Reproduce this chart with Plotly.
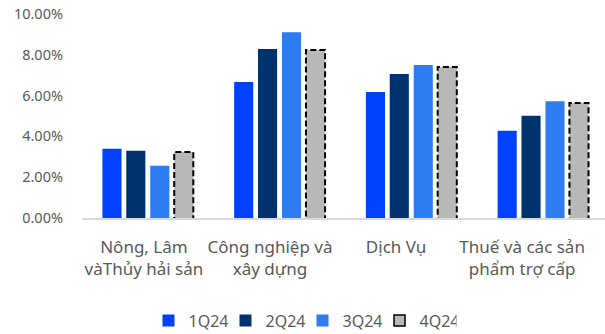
import plotly.graph_objects as go

categories = ["Nông, Lâm<br>vàThủy hải sản", "Công nghiệp và<br>xây dựng", "Dịch Vụ", "Thuế và các sản<br>phẩm trợ cấp"]
series_names = ["1Q24", "2Q24", "3Q24", "4Q24"]
q1 = [3.40, 6.67, 6.18, 4.28]
q2 = [3.30, 8.28, 7.06, 5.01]
q3 = [2.56, 9.11, 7.50, 5.72]
q4 = [3.23, 8.24, 7.40, 5.64]
y_ticks = [0, 2, 4, 6, 8, 10]

colors = ["#0041ff", "#00336e", "#2e7cf2", "#b8b8b8"]
values = [q1, q2, q3, q4]
width = 0.145
offsets = [-0.345, -0.164, 0.018, 0.2]
# label positions (labels sit on a slightly tighter spacing than the bar groups)
label_pos = [i * 0.957 - 0.03 for i in range(len(categories))]

fig = go.Figure()
for name, vals, col, off in zip(series_names, values, colors, offsets):
    is_last = name == series_names[-1]
    fig.add_trace(go.Bar(
        x=list(range(len(categories))), y=vals, name=name,
        marker=dict(color=col, line=dict(width=0)),
        width=width, offset=off, showlegend=not is_last,
    ))

# legend entry for 4Q24 with outlined box
fig.add_trace(go.Scatter(
    x=[None], y=[None], mode="markers", name=series_names[-1],
    marker=dict(symbol="square", size=11, color=colors[-1],
                line=dict(color="black", width=1.5)),
))

# dashed outline for 4Q24 bars, computed from data
for i, v in enumerate(q4):
    fig.add_shape(type="rect", xref="x", yref="y",
                  x0=i + offsets[3], x1=i + offsets[3] + width, y0=-0.1, y1=v,
                  line=dict(color="black", width=2, dash="6px,3px"),
                  fillcolor="rgba(0,0,0,0)", layer="above")

font_family = "Noto Sans"
fig.update_layout(
    width=605, height=334,
    margin=dict(l=82, r=0, t=14, b=116),
    paper_bgcolor="white", plot_bgcolor="white",
    barmode="group",
    font=dict(family=font_family, size=14, color="#595959"),
    showlegend=True,
    legend=dict(orientation="h", xref="container", yref="container",
                x=0.5, xanchor="center", y=0.04, yanchor="middle",
                font=dict(size=16, color="#595959"),
                itemwidth=30, tracegroupgap=0, entrywidth=32, entrywidthmode="pixels"),
)
fig.update_xaxes(
    tickmode="array", tickvals=label_pos, ticktext=categories,
    range=[-0.5, 3.47], showline=True, linecolor="#d9d9d9", linewidth=1.5,
    showgrid=False, zeroline=False, ticks="", tickfont=dict(size=17, color="#595959"),
    ticklabelstandoff=13,
)
fig.update_yaxes(
    range=[0, 10], tickvals=y_ticks, ticktext=[f"{t:.2f}%" for t in y_ticks],
    showgrid=False, zeroline=False, showline=False, ticks="",
    tickfont=dict(size=14.5, color="#595959"), ticklabelstandoff=18,
)

fig.write_html("out.html")
